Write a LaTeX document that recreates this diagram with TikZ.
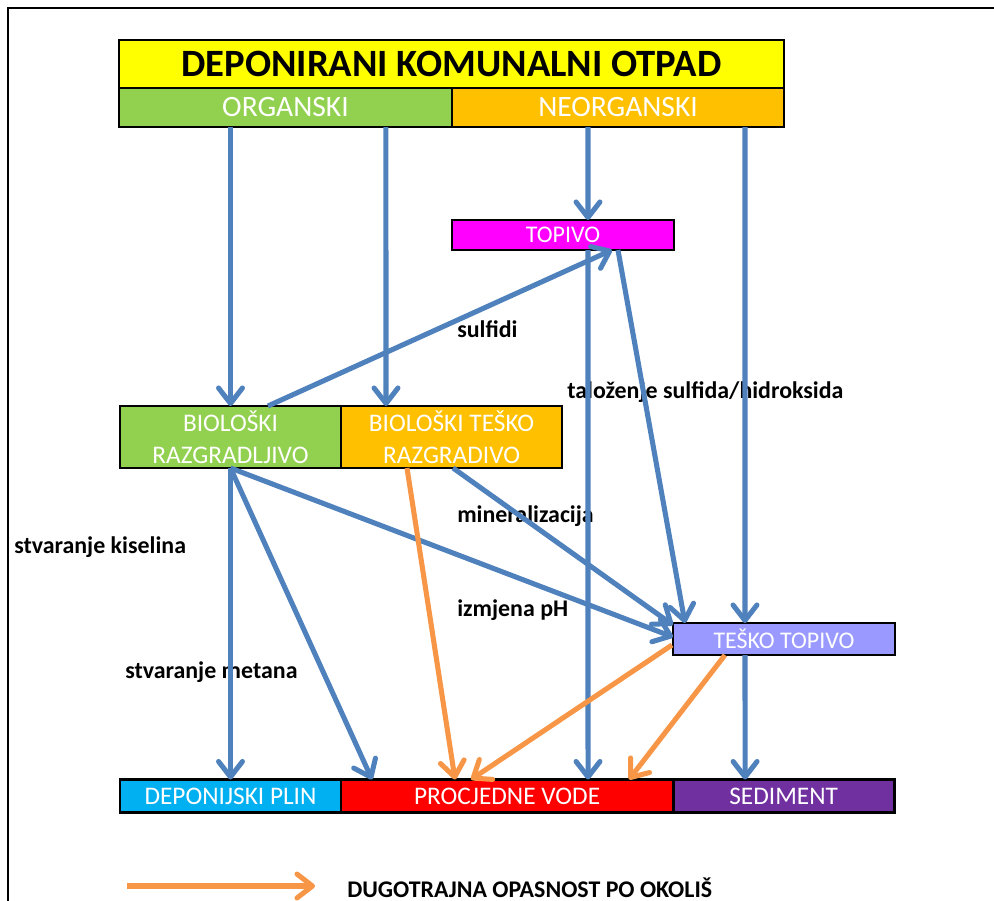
\documentclass[tikz,border=0pt]{standalone}
\usepackage{fontspec}
\setmainfont{Carlito}
\usepackage{xcolor}
\usetikzlibrary{positioning,arrows.meta,calc}
\definecolor{titleyellow}{HTML}{FFFF00}
\definecolor{orggreen}{HTML}{92D050}
\definecolor{neoorange}{HTML}{FFC000}
\definecolor{solmagenta}{HTML}{FF00FF}
\definecolor{hardlilac}{HTML}{9999FF}
\definecolor{gascyan}{HTML}{00B0F0}
\definecolor{waterred}{HTML}{FF0000}
\definecolor{sedpurple}{HTML}{7030A0}
\definecolor{arrblue}{HTML}{4F81BD}
\definecolor{arrorange}{HTML}{F79646}

\begin{document}
\begin{tikzpicture}[x=0.025cm,y=-0.025cm,
  box/.style={draw=black,line width=2pt,inner sep=0pt,outer sep=0pt,text=white,align=center},
  lbl/.style={anchor=base west,inner sep=0pt,font=\fontsize{17}{20}\selectfont\bfseries},
  arr/.style={-{Straight Barb[length=11pt,width=17pt,round]},line width=3.6pt,color=arrblue},
  oarr/.style={arr,color=arrorange}
]
  \useasboundingbox (0,0) rectangle (994,901);
  \draw[line width=1.6pt] (8,901) -- (8,8) -- (994,8);
  % top block
  \node[box,fill=titleyellow,text=black,minimum width=16.625cm,minimum height=1.2cm,
    font=\fontsize{27.5}{32}\selectfont\bfseries] (title) at (451.5,64) {DEPONIRANI KOMUNALNI OTPAD};
  \node[box,fill=orggreen,anchor=north west,minimum width=8.325cm,minimum height=0.975cm,
    font=\fontsize{21}{25}\selectfont] (org) at (title.south west) {ORGANSKI};
  \node[box,fill=neoorange,anchor=north east,minimum width=8.3cm,minimum height=0.975cm,
    font=\fontsize{21}{25}\selectfont] (neorg) at (title.south east) {NEORGANSKI};
  % middle boxes
  \node[box,fill=solmagenta,minimum width=5.55cm,minimum height=0.75cm,
    font=\fontsize{17}{20}\selectfont] (topivo) at (563,235) {TOPIVO};
  \node[box,fill=orggreen,minimum width=5.525cm,minimum height=1.55cm,
    font=\fontsize{18}{23}\selectfont] (bioraz) at (230.5,437) {BIOLOŠKI\\RAZGRADLJIVO};
  \node[box,fill=neoorange,anchor=west,minimum width=5.525cm,minimum height=1.55cm,
    font=\fontsize{18}{23}\selectfont] (biotesko) at (bioraz.east) {BIOLOŠKI TEŠKO\\RAZGRADIVO};
  \node[box,fill=hardlilac,minimum width=5.55cm,minimum height=0.8cm,
    font=\fontsize{17}{20}\selectfont] (tesko) at (784,639) {TEŠKO TOPIVO};
  % bottom row
  \node[box,fill=gascyan,minimum width=5.525cm,minimum height=0.825cm,
    font=\fontsize{18}{21}\selectfont] (plin) at (230.5,796) {DEPONIJSKI PLIN};
  \node[box,fill=waterred,anchor=west,minimum width=8.3cm,minimum height=0.825cm,
    font=\fontsize{18}{21}\selectfont] (voda) at (plin.east) {PROCJEDNE VODE};
  \node[box,fill=sedpurple,anchor=west,minimum width=5.525cm,minimum height=0.825cm,
    font=\fontsize{18}{21}\selectfont] (sediment) at (voda.east) {SEDIMENT};
  % process labels
  \node[lbl] (sulfidi) at (457,337) {sulfidi};
  \node[lbl] (talozenje) at (567,398) {taloženje sulfida/hidroksida};
  \node[lbl] (mineral) at (457,522) {mineralizacija};
  \node[lbl] (izmjena) at (457,616) {izmjena pH};
  \node[lbl] (kiselina) at (14,553) {stvaranje kiselina};
  \node[lbl] (metan) at (125,678) {stvaranje metana};
  % blue arrows
  \draw[arr] (bioraz |- org.south) -- (bioraz.north);
  \draw[arr] ($(org.south west)+(267,0)$) -- ($(biotesko.north west)+(45,0)$);
  \draw[arr] ($(neorg.south west)+(136,0)$) -- ($(topivo.north west)+(136,0)$);
  \draw[arr] ($(neorg.south west)+(293,0)$) -- ($(tesko.north west)+(72,0)$);
  \draw[arr] ($(bioraz.north west)+(148,0)$) -- ($(topivo.south west)+(160,0)$);
  \draw[arr] ($(topivo.south west)+(136,0)$) -- ($(voda.north west)+(247,0)$);
  \draw[arr] ($(topivo.south west)+(166,0)$) -- ($(tesko.north west)+(12,0)$);
  \draw[arr] ($(biotesko.south west)+(112,0)$) -- ($(tesko.west)+(0,-14)$);
  \draw[arr] (bioraz.south) -- ($(tesko.west)+(0,-2)$);
  \draw[arr] (bioraz.south) -- (plin.north);
  \draw[arr] (bioraz.south) -- ($(voda.north west)+(31,0)$);
  \draw[arr] ($(tesko.south west)+(72,0)$) -- ($(sediment.north west)+(72,0)$);
  % orange arrows
  \draw[oarr] ($(biotesko.south west)+(66,0)$) -- ($(voda.north west)+(114,0)$);
  \draw[oarr] ($(tesko.west)+(-1,6)$) -- ($(voda.north west)+(130,0)$);
  \draw[oarr] ($(tesko.south west)+(52,0)$) -- ($(voda.north west)+(288,0)$);
  % legend
  \node[lbl] (legtext) at (347,897) {DUGOTRAJNA OPASNOST PO OKOLIŠ};
  \coordinate (legstart) at (127,886);
  \coordinate (legend) at (315,886);
  \draw[oarr] (legstart) -- (legend);
\end{tikzpicture}
\end{document}
